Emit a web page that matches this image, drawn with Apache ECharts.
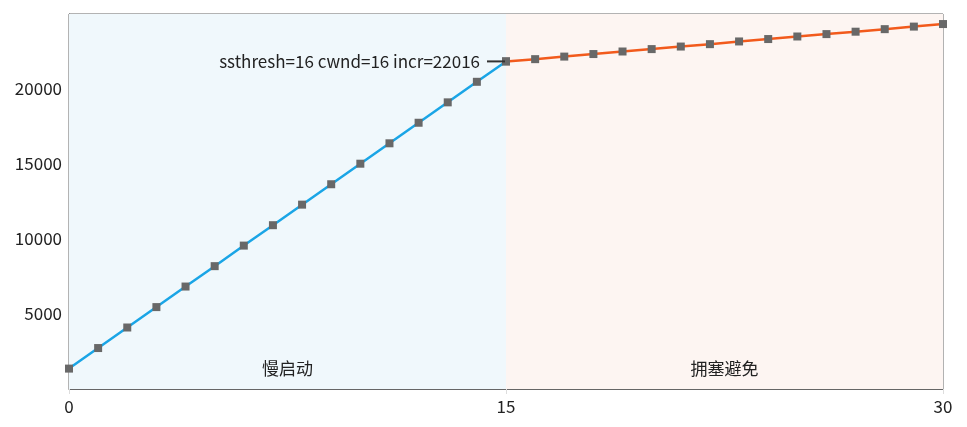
<!DOCTYPE html>
<html>
<head>
<meta charset="utf-8">
<script src="https://cdn.jsdelivr.net/npm/echarts@6/dist/echarts.min.js"></script>
<style>html,body{margin:0;padding:0;background:#fff}#c{width:967px;height:427px}</style>
</head>
<body>
<div id="c"></div>
<script>
// Data
const slowStartX = [0,1,2,3,4,5,6,7,8,9,10,11,12,13,14,15];
const slowStartY = [1360,2730,4100,5460,6830,8190,9560,10920,12290,13650,15020,16380,17750,19110,20480,21840];
const avoidX = [15,16,17,18,19,20,21,22,23,24,25,26,27,28,29,30];
const avoidY = [21840,21990,22160,22330,22500,22660,22830,22990,23170,23330,23500,23660,23820,23990,24160,24330];
const xTicks = [0,15,30];
const phaseNames = ['慢启动','拥塞避免'];
const annotationText = 'ssthresh=16 cwnd=16 incr=22016';

const FONT = '"Noto Sans CJK SC", "Noto Sans", sans-serif';
const FS = 17;
const slowData = slowStartX.map((x,i)=>{
  const item = {value:[x, slowStartY[i]]};
  if (i === slowStartX.length-1) {
    item.label = {show:true, position:'left', distance:-3,
      formatter:'{t|' + annotationText + '}{g|}{l|}',
      rich:{
        t:{color:'#222', fontSize:FS, fontFamily:FONT, verticalAlign:'middle', height:20},
        g:{width:7, height:2},
        l:{width:18, height:2, backgroundColor:'#333', verticalAlign:'middle'}
      }};
  }
  return item;
});
const avoidData = avoidX.map((x,i)=>[x, avoidY[i]]);

const chart = echarts.init(document.getElementById('c'), null, {renderer:'canvas'});
chart.setOption({
  animation:false,
  backgroundColor:'#fff',
  textStyle:{fontFamily:FONT},
  grid:{left:69, right:24, top:14, bottom:38, show:true, borderColor:'#666', borderWidth:1, containLabel:false},
  xAxis:{
    type:'value', min:xTicks[0], max:xTicks[xTicks.length-1], interval:xTicks[1]-xTicks[0],
    axisLine:{lineStyle:{color:'#666', width:1}},
    axisTick:{show:true, length:5, lineStyle:{color:'#ddd'}},
    axisLabel:{color:'#222', fontSize:FS, fontFamily:FONT, margin:9},
    splitLine:{show:false}
  },
  yAxis:{
    type:'value', min:0, max:25000, interval:5000,
    axisLine:{show:true, lineStyle:{color:'#666', width:1}},
    axisTick:{show:false},
    axisLabel:{color:'#222', fontSize:FS, fontFamily:FONT, margin:7, showMinLabel:false, showMaxLabel:false,
      formatter:v=>String(v)},
    splitLine:{lineStyle:{color:'#ddd'}}
  },
  series:[
    {
      type:'line', data:slowData, symbol:'rect', symbolSize:8,
      lineStyle:{color:'#1aa5e6', width:2.5}, itemStyle:{color:'#686868'},
      z:3,
      markArea:{
        silent:true,
        data:[
          [{xAxis:0, itemStyle:{color:'#f0f8fc'}, label:{show:true, position:'insideBottom', distance:12, formatter:phaseNames[0], color:'#222', fontSize:FS, fontFamily:FONT}},{xAxis:15}],
          [{xAxis:15, itemStyle:{color:'#fdf5f2'}, label:{show:true, position:'insideBottom', distance:12, formatter:phaseNames[1], color:'#222', fontSize:FS, fontFamily:FONT}},{xAxis:30}]
        ]
      }
    },
    {
      type:'line', data:avoidData, symbol:'rect', symbolSize:8,
      lineStyle:{color:'#f25a1c', width:2.5}, itemStyle:{color:'#686868'},
      z:3
    }
  ]
});
</script>
</body>
</html>
